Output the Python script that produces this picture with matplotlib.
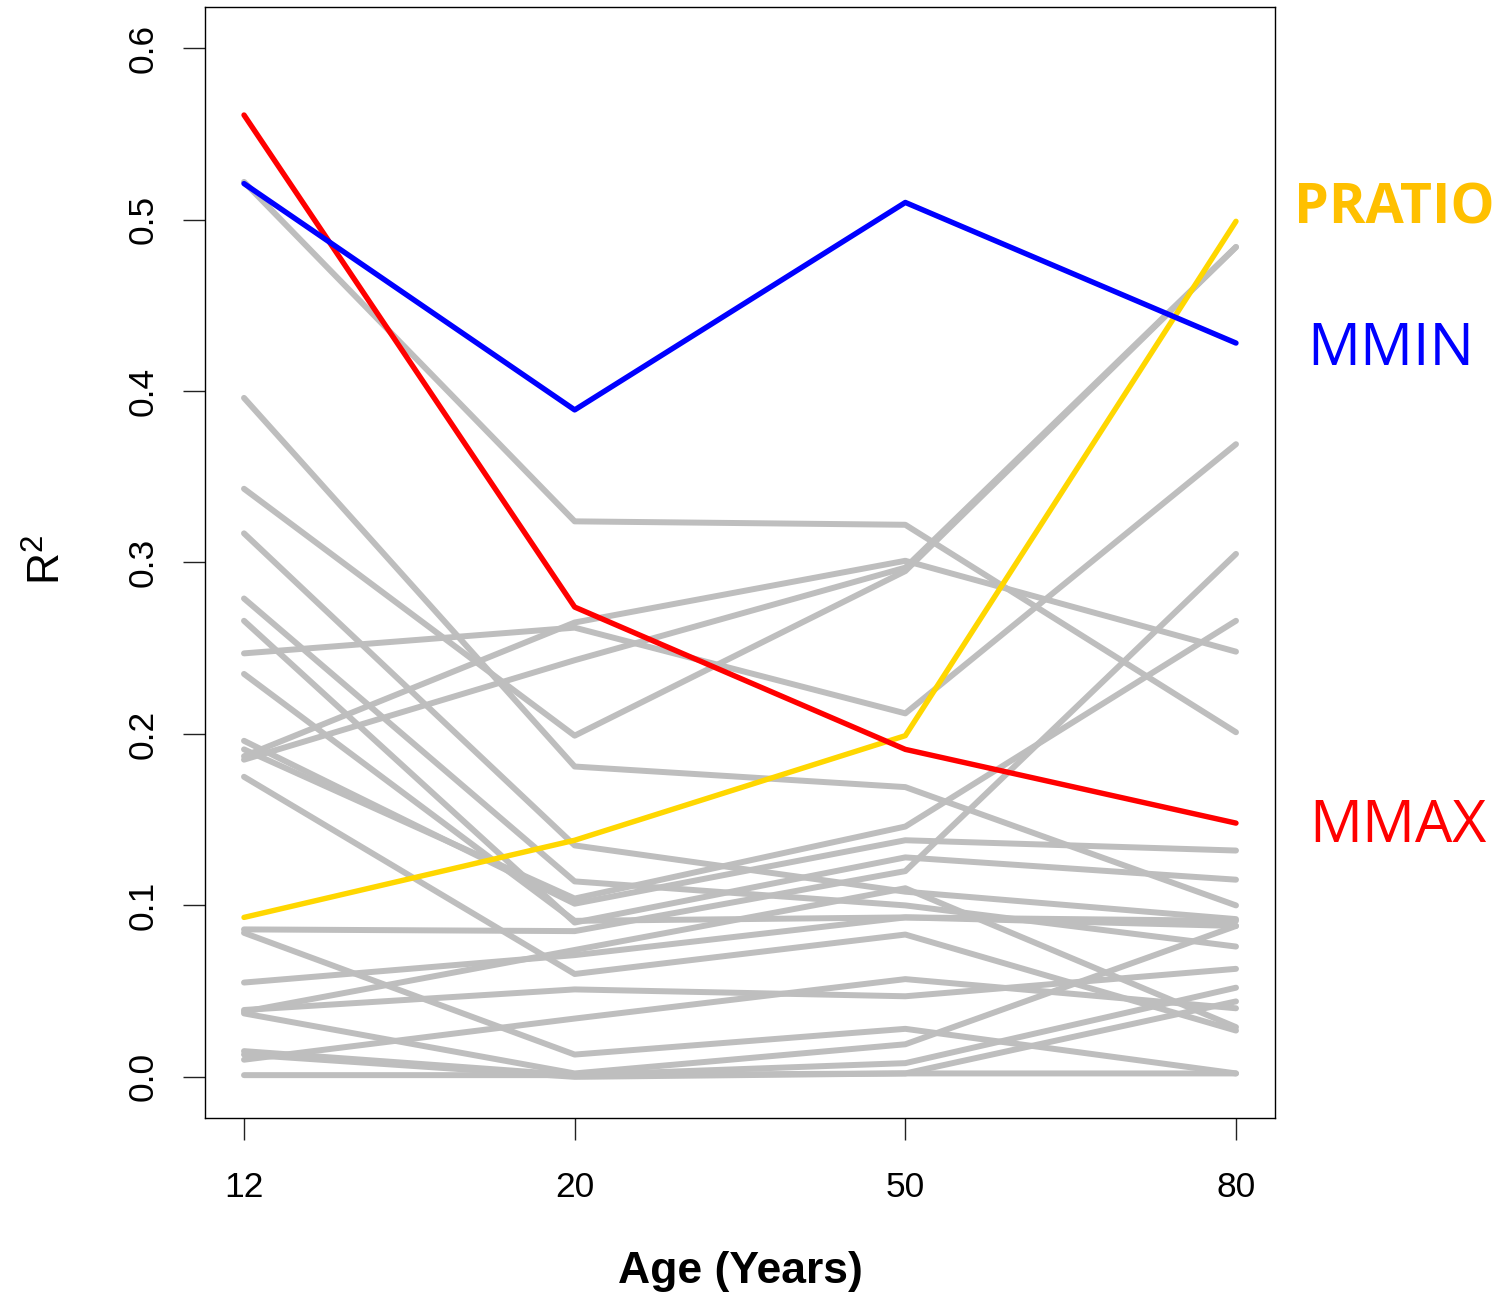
import matplotlib
matplotlib.use("Agg")
import matplotlib.pyplot as plt
import numpy as np

# Age groups on the x axis
ages = ["12", "20", "50", "80"]

# Highlighted measures (R^2 per age group)
mmax = [0.561, 0.274, 0.191, 0.148]
mmin = [0.521, 0.389, 0.510, 0.428]
pratio = [0.093, 0.138, 0.199, 0.499]

# Remaining measures, one entry per measure, split by age group
grey_12 = [0.522, 0.396, 0.343, 0.317, 0.279, 0.266, 0.247, 0.235, 0.196, 0.191, 0.187, 0.185,
           0.175, 0.086, 0.084, 0.055, 0.039, 0.038, 0.037, 0.010, 0.015, 0.013, 0.001]
grey_20 = [0.324, 0.181, 0.199, 0.135, 0.114, 0.090, 0.262, 0.091, 0.101, 0.104, 0.265, 0.243,
           0.060, 0.085, 0.013, 0.071, 0.051, 0.074, 0.002, 0.034, 0.001, 0.000, 0.001]
grey_50 = [0.322, 0.169, 0.295, 0.108, 0.100, 0.128, 0.212, 0.093, 0.138, 0.146, 0.301, 0.297,
           0.083, 0.120, 0.028, 0.093, 0.047, 0.110, 0.019, 0.057, 0.008, 0.002, 0.002]
grey_80 = [0.201, 0.100, 0.484, 0.092, 0.076, 0.115, 0.369, 0.088, 0.132, 0.266, 0.248, 0.484,
           0.027, 0.305, 0.002, 0.091, 0.063, 0.029, 0.088, 0.040, 0.052, 0.044, 0.002]

y_ticks = [0.0, 0.1, 0.2, 0.3, 0.4, 0.5, 0.6]

plt.rcParams["font.family"] = ["Liberation Sans", "DejaVu Sans"]
plt.rcParams["mathtext.fontset"] = "custom"
plt.rcParams["mathtext.rm"] = "Liberation Sans"

W, H = 1499, 1298
fig = plt.figure(figsize=(W / 100, H / 100), dpi=100)
ax = fig.add_axes([205 / W, 1 - 1118 / H, (1275 - 205) / W, (1118 - 7) / H])

x = np.arange(len(ages))
line_kw = dict(solid_capstyle="round", solid_joinstyle="round")

for a, b, c, d in zip(grey_12, grey_20, grey_50, grey_80):
    ax.plot(x, [a, b, c, d], color="#BEBEBE", lw=4.3, **line_kw)

ax.plot(x, pratio, color="#FFD700", lw=3.9, **line_kw)
ax.plot(x, mmax, color="#FF0000", lw=3.9, **line_kw)
ax.plot(x, mmin, color="#0000FF", lw=3.9, **line_kw)

ax.set_xlim(-0.118, 3.118)
ax.set_ylim(-0.024, 0.624)
ax.set_xticks(x, ages)
ax.set_yticks(y_ticks, [f"{v:.1f}" for v in y_ticks])
ax.tick_params(axis="both", direction="out", length=16, width=1.0, labelsize=25.5,
               color="#222222")
ax.tick_params(axis="x", pad=22)
ax.tick_params(axis="y", pad=17, labelrotation=90)
for lab in ax.get_yticklabels():
    lab.set_va("center")
for sp in ax.spines.values():
    sp.set_linewidth(1.0)
    sp.set_color("black")

fig.text(48 / W, 1 - 560 / H, r"$\mathregular{R^2}$", rotation=90, fontsize=32,
         ha="center", va="center")
fig.text(740 / W, 1 - 1271 / H, "Age (Years)", fontsize=32, fontweight="bold",
         ha="center", va="center")

fig.text(1394 / W, 1 - 223 / H, "PRATIO", color="#FFC000", fontsize=40,
         fontweight="bold", family="Open Sans", ha="center", va="baseline")
fig.text(1391 / W, 1 - 365 / H, "MMIN", color="#0000FF", fontsize=42.5,
         family="Open Sans", ha="center", va="baseline")
fig.text(1398 / W, 1 - 842 / H, "MMAX", color="#FF0000", fontsize=42.5,
         family="Open Sans", ha="center", va="baseline")

fig.savefig("out.png", dpi=100)
